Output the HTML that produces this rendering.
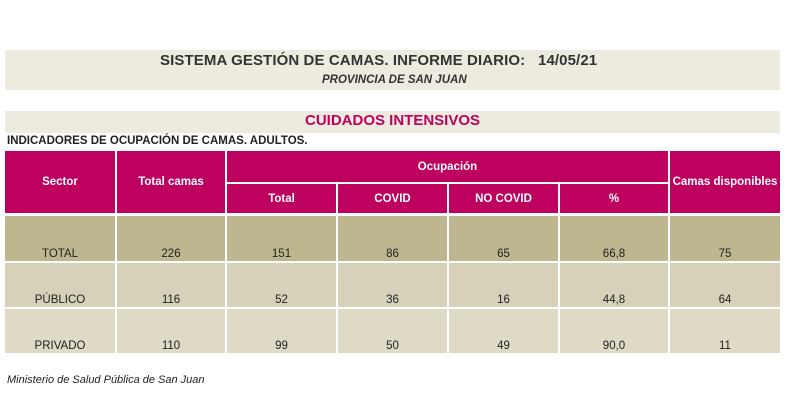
<!DOCTYPE html>
<html><head><meta charset="utf-8"><style>
body{margin:0;width:798px;height:408px;background:#fff;position:relative;font-family:"Liberation Sans",sans-serif;overflow:hidden}
.a{position:absolute}
.band{background:#EDEBE0;left:5px;width:775px}
.c{position:absolute;box-sizing:border-box;display:flex;justify-content:center;font-size:11.5px}
.h{background:#BE005E;color:#fff;font-weight:bold;align-items:center}
.t{background:#BDB68F;color:#222;align-items:flex-end;padding-bottom:1px}
.p{background:#D6D1B8;color:#222;align-items:flex-end;padding-bottom:1px}
.v{background:#DEDAC6;color:#222;align-items:flex-end;padding-bottom:1px}
</style></head><body>
<div class="a band" style="top:50px;height:40px"></div>
<div class="a" style="left:160px;top:52px;font-size:15px;font-weight:bold;color:#333;letter-spacing:0.1px">SISTEMA GESTIÓN DE CAMAS. INFORME DIARIO:&nbsp;&nbsp;&nbsp;14/05/21</div>
<div class="a" style="left:322px;top:74px;font-size:11.5px;font-weight:bold;font-style:italic;color:#333">PROVINCIA DE SAN JUAN</div>
<div class="a band" style="top:111px;height:22px"></div>
<div class="a" style="left:0;width:785px;text-align:center;top:112px;font-size:15px;font-weight:bold;color:#BE005E">CUIDADOS INTENSIVOS</div>
<div class="a" style="left:7px;top:135px;font-size:11.5px;font-weight:bold;color:#222">INDICADORES DE OCUPACIÓN DE CAMAS. ADULTOS.</div>

<div class="c h" style="left:5px;top:151px;width:110px;height:62px">Sector</div>
<div class="c h" style="left:117px;top:151px;width:108px;height:62px">Total camas</div>
<div class="c h" style="left:227px;top:151px;width:441px;height:31px">Ocupación</div>
<div class="c h" style="left:670px;top:151px;width:110px;height:62px">Camas disponibles</div>
<div class="c h" style="left:227px;top:184px;width:109px;height:29px">Total</div>
<div class="c h" style="left:338px;top:184px;width:109px;height:29px">COVID</div>
<div class="c h" style="left:449px;top:184px;width:109px;height:29px">NO COVID</div>
<div class="c h" style="left:560px;top:184px;width:108px;height:29px">%</div>

<div class="c t" style="left:5px;top:216px;width:110px;height:45px">TOTAL</div>
<div class="c t" style="left:117px;top:216px;width:108px;height:45px">226</div>
<div class="c t" style="left:227px;top:216px;width:109px;height:45px">151</div>
<div class="c t" style="left:338px;top:216px;width:109px;height:45px">86</div>
<div class="c t" style="left:449px;top:216px;width:109px;height:45px">65</div>
<div class="c t" style="left:560px;top:216px;width:108px;height:45px">66,8</div>
<div class="c t" style="left:670px;top:216px;width:110px;height:45px">75</div>

<div class="c p" style="left:5px;top:263px;width:110px;height:44px">PÚBLICO</div>
<div class="c p" style="left:117px;top:263px;width:108px;height:44px">116</div>
<div class="c p" style="left:227px;top:263px;width:109px;height:44px">52</div>
<div class="c p" style="left:338px;top:263px;width:109px;height:44px">36</div>
<div class="c p" style="left:449px;top:263px;width:109px;height:44px">16</div>
<div class="c p" style="left:560px;top:263px;width:108px;height:44px">44,8</div>
<div class="c p" style="left:670px;top:263px;width:110px;height:44px">64</div>

<div class="c v" style="left:5px;top:309px;width:110px;height:44px">PRIVADO</div>
<div class="c v" style="left:117px;top:309px;width:108px;height:44px">110</div>
<div class="c v" style="left:227px;top:309px;width:109px;height:44px">99</div>
<div class="c v" style="left:338px;top:309px;width:109px;height:44px">50</div>
<div class="c v" style="left:449px;top:309px;width:109px;height:44px">49</div>
<div class="c v" style="left:560px;top:309px;width:108px;height:44px">90,0</div>
<div class="c v" style="left:670px;top:309px;width:110px;height:44px">11</div>

<div class="a" style="left:7px;top:374px;font-size:11px;font-style:italic;color:#222">Ministerio de Salud Pública de San Juan</div>
</body></html>
